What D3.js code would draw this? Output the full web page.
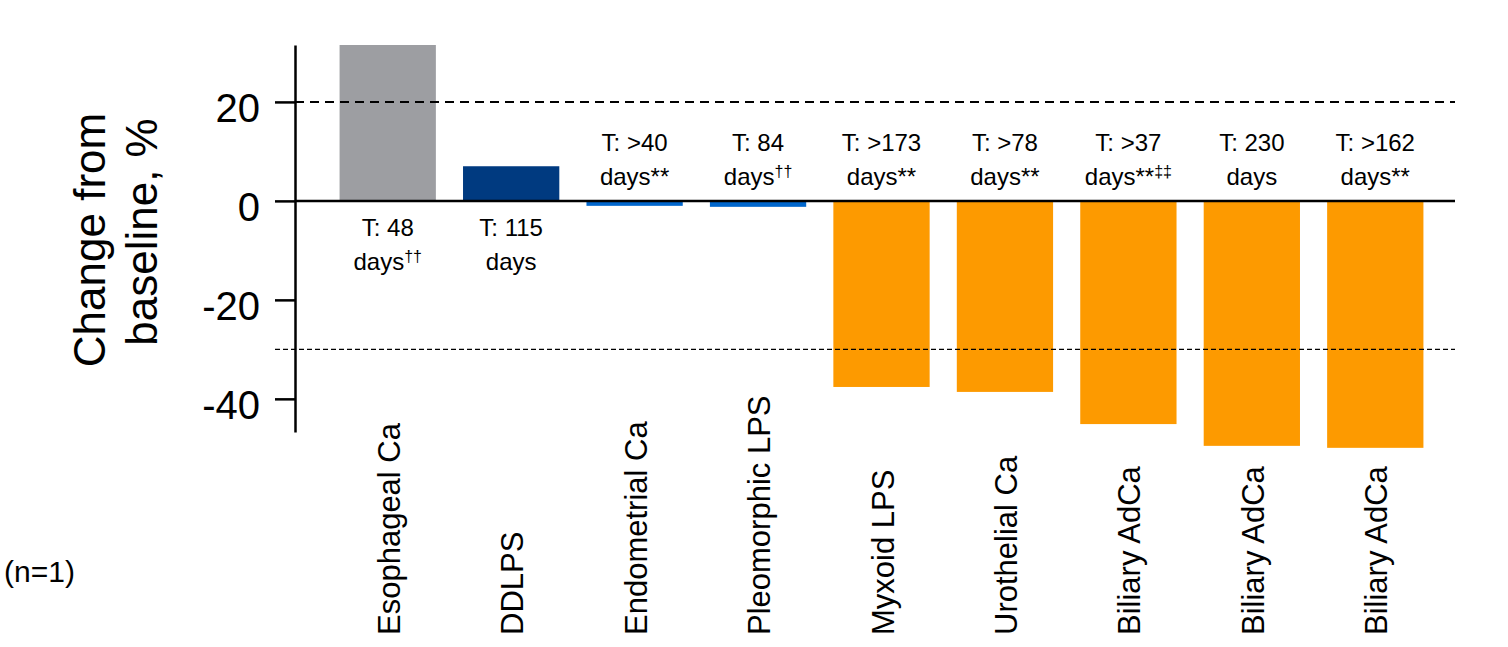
<!DOCTYPE html>
<html>
<head>
<meta charset="utf-8">
<script src="https://cdn.jsdelivr.net/npm/d3@7"></script>
<style>
  body { margin: 0; background: #fff; }
  svg { display: block; font-family: "Liberation Sans", Arial, sans-serif; }
</style>
</head>
<body>
<div id="chart"></div>
<script>
  const width = 1508
      , height = 647
      ;

  const categories = ['Esophageal Ca', 'DDLPS', 'Endometrial Ca', 'Pleomorphic LPS', 'Myxoid LPS',
                      'Urothelial Ca', 'Biliary AdCa', 'Biliary AdCa', 'Biliary AdCa'];
  const changes = [31.5, 7.0, -1.0, -1.2, -37.6, -38.6, -45.1, -49.5, -49.9];
  const timeLabels = ['T: 48', 'T: 115', 'T: >40', 'T: 84', 'T: >173', 'T: >78', 'T: >37', 'T: 230', 'T: >162'];
  const starMarks = ['', '', '**', '', '**', '**', '**', '', '**'];
  const daggerMarks = ['\u2020\u2020', '', '', '\u2020\u2020', '', '', '\u2021\u2021', '', ''];
  const groups = ['pd', 'sd', 'sdb', 'sdb', 'pr', 'pr', 'pr', 'pr', 'pr'];
  const yTicks = [-40, -20, 0, 20];
  const refLines = [20, -30];

  const colors = { pd: '#9d9ea2', sd: '#003a80', sdb: '#0066cc', pr: '#fd9a00' };

  const data = categories.map((c, i) => ({
    name: c, value: changes[i], t: timeLabels[i], stars: starMarks[i], daggers: daggerMarks[i],
    group: groups[i], key: i
  }));

  const svg = d3.select('#chart').append('svg')
    .attr('width', width)
    .attr('height', height);

  const x = d3.scaleBand()
    .domain(data.map(d => d.key))
    .range([326, 1437])
    .paddingInner(0.22)
    .paddingOuter(0.11);

  const y = d3.scaleLinear()
    .domain([-46.7, 31.5])
    .range([432, 45]);

  const axisX = 295;

  // bars
  svg.append('g')
    .selectAll('rect')
    .data(data)
    .join('rect')
      .attr('x', d => x(d.key))
      .attr('width', x.bandwidth())
      .attr('y', d => y(Math.max(0, d.value)))
      .attr('height', d => Math.abs(y(d.value) - y(0)))
      .attr('fill', d => colors[d.group]);

  // reference lines
  svg.append('line')
    .attr('x1', axisX).attr('x2', 1455)
    .attr('y1', y(refLines[0])).attr('y2', y(refLines[0]))
    .attr('stroke', '#000').attr('stroke-width', 2)
    .attr('stroke-dasharray', '9,6');

  svg.append('line')
    .attr('x1', 275).attr('x2', 1455)
    .attr('y1', y(refLines[1])).attr('y2', y(refLines[1]))
    .attr('stroke', '#000').attr('stroke-width', 1.2)
    .attr('stroke-dasharray', '5,3');

  // zero line
  svg.append('line')
    .attr('x1', axisX).attr('x2', 1455)
    .attr('y1', y(0)).attr('y2', y(0))
    .attr('stroke', '#000').attr('stroke-width', 2.5);

  // y axis
  const yAxis = svg.append('g')
    .attr('transform', `translate(${axisX},0)`)
    .call(d3.axisLeft(y)
      .tickValues(yTicks)
      .tickFormat(d => String(d))
      .tickSize(20)
      .tickSizeOuter(0)
      .tickPadding(15));

  yAxis.select('.domain').attr('stroke-width', 2.5);
  yAxis.selectAll('.tick line').attr('stroke-width', 2.5);
  yAxis.selectAll('.tick text')
    .attr('font-size', 40)
    .attr('dy', '0.48em')
    .attr('font-family', '"Liberation Sans", Arial, sans-serif')
    .attr('fill', '#000');

  // y title
  svg.append('text')
    .attr('transform', 'translate(105,240) rotate(-90)')
    .attr('text-anchor', 'middle')
    .attr('font-size', 44)
    .text('Change from');
  svg.append('text')
    .attr('transform', 'translate(157,232) rotate(-90)')
    .attr('text-anchor', 'middle')
    .attr('font-size', 44)
    .text('baseline, %');

  // duration labels
  const cx = d => x(d.key) + x.bandwidth() / 2;
  const dur = svg.append('g')
    .attr('font-size', 24)
    .attr('text-anchor', 'middle');

  dur.selectAll('text.t')
    .data(data)
    .join('text')
      .attr('class', 't')
      .attr('x', cx)
      .attr('y', d => d.value >= 0 ? y(0) + 35 : y(0) - 50)
      .text(d => d.t);

  const days = dur.selectAll('text.d')
    .data(data)
    .join('text')
      .attr('class', 'd')
      .attr('x', cx)
      .attr('y', d => d.value >= 0 ? y(0) + 69 : y(0) - 16);

  days.append('tspan').text(d => 'days' + d.stars);
  days.append('tspan')
    .attr('font-size', 16)
    .attr('dy', -8)
    .text(d => d.daggers);

  // category labels
  svg.append('g')
    .attr('font-size', 31)
    .selectAll('text')
    .data(data)
    .join('text')
      .attr('transform', d => `translate(${cx(d) + 12},635) rotate(-90)`)
      .attr('text-anchor', 'start')
      .text(d => d.name);

  svg.append('text')
    .attr('x', 4)
    .attr('y', 582)
    .attr('font-size', 30)
    .text('(n=1)');
</script>
</body>
</html>
